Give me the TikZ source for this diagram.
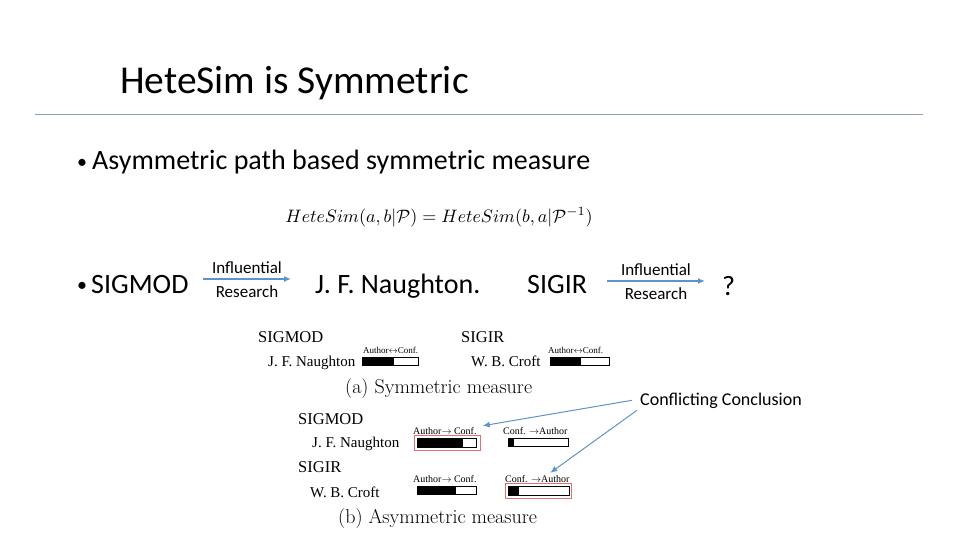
\documentclass[tikz,border=0pt]{standalone}
\usepackage{fontspec}
\setmainfont{Carlito}
\newfontfamily\paperfont{Liberation Serif}
\newfontfamily\cmfont{Latin Modern Roman}
\usetikzlibrary{arrows.meta}

\definecolor{rulegray}{HTML}{8EA3B5}
\definecolor{arrowblue}{HTML}{5E93C8}
\definecolor{framered}{HTML}{E07070}

\tikzset{
  txt/.style={inner sep=0pt, anchor=base west},
  big/.style={txt, font=\fontsize{28}{32}\selectfont},
  dot/.style={txt, font=\fontsize{20}{24}\selectfont},
  small/.style={inner sep=0pt, text=black, font=\fontsize{17}{19}\selectfont},
  paper/.style={inner sep=0pt, anchor=base west, font=\paperfont\fontsize{16.5}{18}\selectfont},
  author/.style={inner sep=0pt, anchor=base west, font=\paperfont\fontsize{15}{17}\selectfont},
  tag/.style={inner sep=0pt, anchor=base west, font=\paperfont\fontsize{10}{11}\selectfont},
  caption/.style={inner sep=0pt, anchor=base west, font=\cmfont\fontsize{20}{22}\selectfont},
  link/.style={arrowblue, line width=1.5pt, -{Latex[length=7pt,width=6pt]}},
}

\begin{document}
\begin{tikzpicture}[x=1pt,y=-1pt]
\useasboundingbox (0,0) rectangle (960,540);
% title
\node[txt, font=\fontsize{39.5}{46}\selectfont] (title) at (120,94) {HeteSim is Symmetric};
\draw[rulegray, line width=1pt] (35,115) -- (923,115);
% bullets
\node[dot] (dot1) at (77,168) {\textbullet};
\node[big] (point1) at (92,170) {Asymmetric path based symmetric measure};
\node[inner sep=0pt] (eq) at (439,217) {\scalebox{1.8}{$HeteSim(a,b|\mathcal{P}) = HeteSim(b,a|\mathcal{P}^{-1})$}};
\node[dot] (dot2) at (77,291) {\textbullet};
\node[big] (sigmod) at (91,293) {SIGMOD};
\node[big] (naughton) at (315,293) {J. F. Naughton.};
\node[big] (sigir) at (527,293) {SIGIR};
\node[big] (unknown) at (722,295) {?};
\coordinate (a1s) at (203,279);
\coordinate (a1e) at (291,279);
\coordinate (a2s) at (607,281);
\coordinate (a2e) at (705,281);
\draw[link] (a1s) -- node[small, above=5pt] {Influential} node[small, below=6pt] {Research} (a1e);
\draw[link] (a2s) -- node[small, above=5pt] {Influential} node[small, below=6pt] {Research} (a2e);
% (a) symmetric
\node[paper] (venA1) at (258,342) {SIGMOD};
\node[paper] (venA2) at (461,342) {SIGIR};
\node[author] (autA1) at (268,366) {J. F. Naughton};
\node[author] (autA2) at (471,366) {W. B. Croft};
\node[tag, font=\paperfont\fontsize{9}{10}\selectfont] (tagA1) at (363,353) {Author$\leftrightarrow$Conf.};
\node[tag, font=\paperfont\fontsize{9}{10}\selectfont] (tagA2) at (548,353) {Author$\leftrightarrow$Conf.};
\draw[line width=0.8pt] (362,357) rectangle (418,365);
\fill[black] (362,357) rectangle (394,365);
\draw[line width=0.8pt] (550,357) rectangle (609,365);
\fill[black] (550,357) rectangle (581,365);
\node[caption] (capA) at (345,393) {(a) Symmetric measure};
% (b) asymmetric
\node[paper] (venB1) at (298,424) {SIGMOD};
\node[author] (autB1) at (312,447) {J. F. Naughton};
\node[paper] (venB2) at (298,472) {SIGIR};
\node[author] (autB2) at (310,497) {W. B. Croft};
\node[tag] (ac1) at (413,434) {Author$\rightarrow$ Conf.};
\node[tag] (ca1) at (503,434) {Conf. $\rightarrow$Author};
\node[tag] (ac2) at (413,482) {Author$\rightarrow$ Conf.};
\node[tag] (ca2) at (505,482) {Conf. $\rightarrow$Author};
\draw[line width=0.8pt] (417,438) rectangle (476,447);
\fill[black] (417,438) rectangle (463,447);
\draw[framered, line width=1pt] (414,435) rectangle (480,450);
\draw[line width=0.8pt] (508,438) rectangle (568,446);
\fill[black] (508,438) rectangle (514,446);
\draw[line width=0.8pt] (417,486) rectangle (476,494);
\fill[black] (417,486) rectangle (456,494);
\draw[line width=0.8pt] (508,486) rectangle (569,495);
\fill[black] (508,486) rectangle (519,495);
\draw[framered, line width=1pt] (505,483) rectangle (571,498);
\node[caption] (capB) at (338,523) {(b) Asymmetric measure};
% conclusion
\node[txt, font=\fontsize{18}{20}\selectfont] (conflict) at (640,405) {Conflicting Conclusion};
\draw[link, line width=1pt] ([xshift=-8pt]conflict.west) -- ([xshift=6pt,yshift=1pt]ac1.north east);
\draw[link, line width=1pt] ([xshift=-3pt,yshift=-2pt]conflict.south west) -- ([xshift=13pt,yshift=2pt]ca2.north);
\end{tikzpicture}
\end{document}
